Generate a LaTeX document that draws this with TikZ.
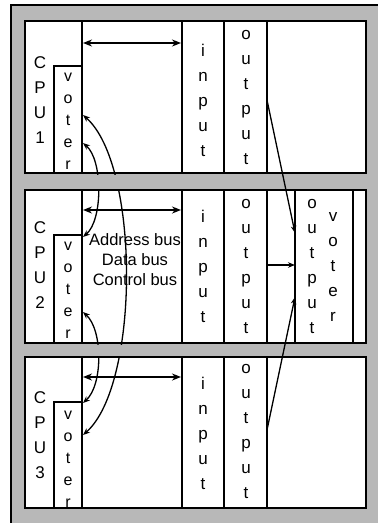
\documentclass[tikz,border=0pt]{standalone}
\usepackage{fontspec}
\setmainfont{Liberation Sans}
\usetikzlibrary{arrows.meta}
\definecolor{halftone}{gray}{0.72}
\begin{document}
\begin{tikzpicture}[x=1pt,y=-1pt,
  panel/.style={draw=black,line width=2pt,fill=white},
  sep/.style={draw=black,line width=1.4pt},
  stack/.style={inner sep=0pt,align=center,font=\fontsize{17}{25}\selectfont},
  vstack/.style={inner sep=0pt,align=center,font=\fontsize{16}{22}\selectfont},
  buslabel/.style={inner sep=0pt,align=center,font=\fontsize{16.5}{20}\selectfont},
  bus/.style={line width=2pt,{Stealth[length=9pt,width=7pt]}-{Stealth[length=9pt,width=7pt]}},
  vote/.style={line width=1.3pt,{Stealth[length=7pt,width=5.5pt]}-{Stealth[length=7pt,width=5.5pt]}},
  feed/.style={line width=1.3pt,-{Stealth[length=7pt,width=5.5pt]}},
]
\useasboundingbox (0,0) rectangle (378,523);
\clip (0,0) rectangle (378,523);
\fill[white] (0,0) rectangle (378,523);
\draw[fill=halftone,line width=2pt] (11,5) rectangle (390,535);

% panels
\foreach \t/\b in {21/173,190/343,357/508} {
  \draw[panel] (25,\t) rectangle (366,\b);
  \draw[sep] (54,\b) -- (54,\t+45) -- (82,\t+45);
  \draw[sep] (82,\t) -- (82,\b);
  \draw[sep] (182,\t) -- (182,\b);
  \draw[sep] (224,\t) -- (224,\b);
  \draw[sep] (267,\t) -- (267,\b);
}
% output voter column in panel 2
\draw[line width=2pt] (295,190) -- (295,343);
\draw[sep] (353,190) -- (353,343);

% connection points
\coordinate (va1) at (83,115);
\coordinate (vb1) at (83,143);
\coordinate (va2) at (83,237);
\coordinate (vb2) at (83,312);
\coordinate (va3) at (83,403);
\coordinate (vb3) at (83,435);

% voter interconnections
\draw[vote] (va1) .. controls (140,165) and (140,385) .. (vb3);
\draw[vote] (vb1) .. controls (103,160) and (103,220) .. (va2);
\draw[vote] (vb2) .. controls (103,330) and (103,385) .. (va3);

% gray bands between panels (hide the curves there)
\fill[halftone] (12,174.5) rectangle (378,189);
\fill[halftone] (12,344.5) rectangle (378,356);

% buses
\coordinate (bl1) at (83,43);  \coordinate (br1) at (181,43);
\coordinate (bl2) at (83,210); \coordinate (br2) at (181,210);
\coordinate (bl3) at (83,377); \coordinate (br3) at (181,377);
\draw[bus] (bl1) -- (br1);
\draw[bus] (bl2) -- (br2);
\draw[bus] (bl3) -- (br3);

% outputs to output voter
\coordinate (o1) at (267,100);
\coordinate (o2) at (267,265);
\coordinate (o3) at (267,430);
\coordinate (ov1) at (295,233);
\coordinate (ov2) at (295,265);
\coordinate (ov3) at (295,297);
\draw[feed] (o1) -- (ov1);
\draw[feed] (o2) -- (ov2);
\draw[feed] (o3) -- (ov3);

% texts
\node[stack] (cpu1) at (40,100) {C\\P\\U\\1};
\node[stack] (cpu2) at (40,265) {C\\P\\U\\2};
\node[stack] (cpu3) at (40,435) {C\\P\\U\\3};
\node[vstack] (voter1) at (68,121) {v\\o\\t\\e\\r};
\node[vstack] (voter2) at (68,290) {v\\o\\t\\e\\r};
\node[vstack] (voter3) at (68,459) {v\\o\\t\\e\\r};
\node[stack] (in1) at (203,100) {i\\n\\p\\u\\t};
\node[stack] (in2) at (203,266) {i\\n\\p\\u\\t};
\node[stack] (in3) at (203,433) {i\\n\\p\\u\\t};
\node[stack] (out1) at (246,97.5) {o\\u\\t\\p\\u\\t};
\node[stack] (out2) at (246,266.5) {o\\u\\t\\p\\u\\t};
\node[stack] (out3) at (246,431.5) {o\\u\\t\\p\\u\\t};
\node[stack] (ovout) at (312,266.5) {o\\u\\t\\p\\u\\t};
\node[stack] (ovvoter) at (333,267.5) {v\\o\\t\\e\\r};
\node[buslabel] (buses) at (135,260) {Address bus\\Data bus\\Control bus};
\end{tikzpicture}
\end{document}
